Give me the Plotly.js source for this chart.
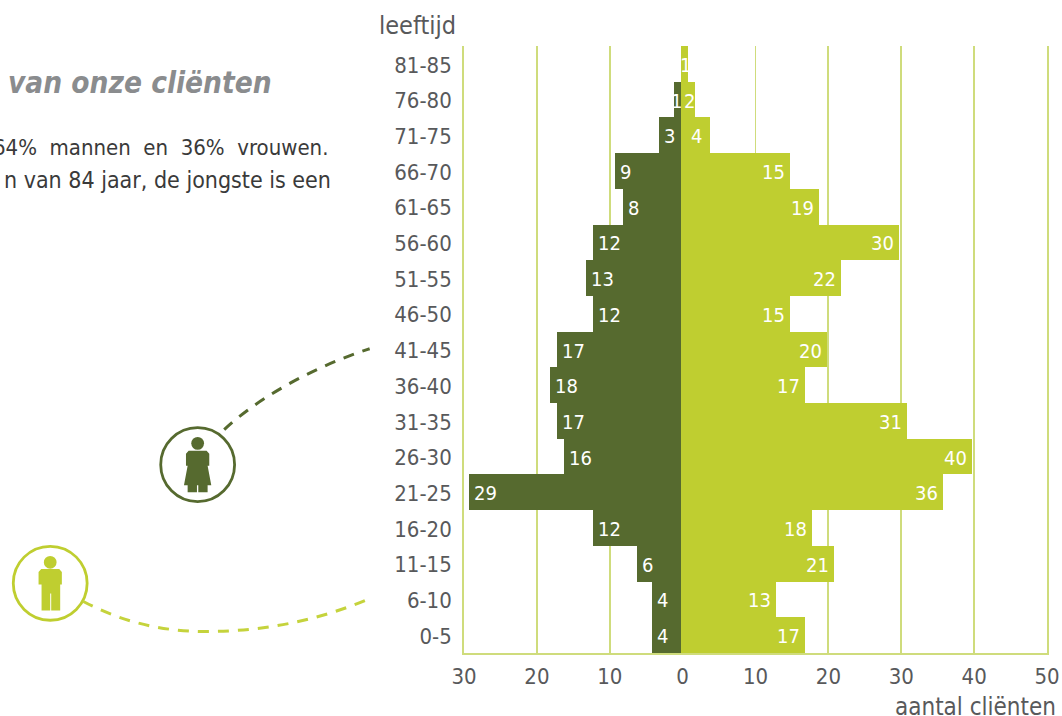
<!DOCTYPE html>
<html><head><meta charset="utf-8">
<script src="https://cdn.plot.ly/plotly-3.0.1.min.js"></script>
<style>html,body{margin:0;padding:0;background:#fff;overflow:hidden}</style>
</head><body><div id="chart" style="width:1062px;height:716px"></div>
<script>
const ageGroups=["0-5","6-10","11-15","16-20","21-25","26-30","31-35","36-40","41-45","46-50","51-55","56-60","61-65","66-70","71-75","76-80","81-85"];
const women=[4,4,6,12,29,16,17,18,17,12,13,12,8,9,3,1,0];
const men=[17,13,21,18,36,40,31,17,20,15,22,30,19,15,4,2,1];
const tickValues=[-30,-20,-10,0,10,20,30,40,50];
const tickLabels=["30","20","10","0","10","20","30","40","50"];
const W=1062,H=716,L=463.5,R=1047.5,T=46,B=653.5,BASE=-0.25;
const FONT='"DejaVu Sans Condensed","DejaVu Sans", sans-serif';
const DARK='#566a2f',LIGHT='#bfce30',GRID='#cfdc7c',TXT='#58595b';
const px=x=>(x-L)/(R-L), py=y=>(B-y)/(B-T);
const P=(x,y)=>px(x).toFixed(5)+','+py(y).toFixed(5);
function pathShape(cmds,opts){
  const d=cmds.map(c=>c[0]+c.slice(1).map(p=>P(p[0],p[1])).join(' ')).join(' ');
  return Object.assign({type:'path',xref:'paper',yref:'paper',path:d},opts);
}
function circle(cx,cy,r,opts){return Object.assign({type:'circle',xref:'paper',yref:'paper',x0:px(cx-r),x1:px(cx+r),y0:py(cy+r),y1:py(cy-r)},opts);}
const z=(ox,oy)=>(x,y)=>[ox+x/3,oy+y/3];
const q=z(0,340);
const solid=c=>({fillcolor:c,line:{color:c,width:0}});
const shapes=[
 circle(196.7,465,37,{line:{color:DARK,width:2.8},fillcolor:'rgba(0,0,0,0)'}),
 circle(49,583.7,37,{line:{color:LIGHT,width:2.8},fillcolor:'rgba(0,0,0,0)'}),
 circle(196.7,443.7,6.4,solid(DARK)),
 circle(49,562.7,6.4,solid(LIGHT)),
 pathShape([['M',q(563,333)],['L',q(617,333)],['L',q(625,342)],['L',q(625,378)],['L',q(620,378)],['L',q(631,437)],['L',q(620,437)],['L',q(620,458)],['L',q(592,458)],['L',q(592,437)],['L',q(588,437)],['L',q(588,458)],['L',q(560,458)],['L',q(560,437)],['L',q(549,437)],['L',q(560,378)],['L',q(555,378)],['L',q(555,342)],['Z']],solid(DARK)),
 pathShape([['M',q(120,688)],['L',q(174,688)],['L',q(182,697)],['L',q(182,735)],['L',q(177,735)],['L',q(177,813)],['L',q(150,813)],['L',q(150,762)],['L',q(147,762)],['L',q(147,813)],['L',q(121,813)],['L',q(121,735)],['L',q(112,735)],['L',q(112,697)],['Z']],solid(LIGHT)),
 pathShape([['M',[223.3,430]],['C',[255,400],[310,368],[369,349]]],{line:{color:DARK,width:3,dash:'11px,9px'},fillcolor:'rgba(0,0,0,0)'}),
 pathShape([['M',[81.7,601.7]],['C',[120,622],[160,632],[205,632]],['C',[265,632],[320,620],[369,599]]],{line:{color:'#c5d33c',width:3,dash:'11px,9px'},fillcolor:'rgba(0,0,0,0)'})
];
const note=(text,x,y,anchor,size,color,extra)=>Object.assign({text:text,xref:'paper',yref:'paper',x:px(x),y:py(y),xanchor:anchor,yanchor:'middle',showarrow:false,font:{family:FONT,size:size,color:color}},extra||{});
const barLabel=(v,cat,sign)=>{
  const center=sign>0?v<=4:v<=2;
  return {text:String(v),xref:'x',yref:'y',x:center?BASE+sign*v/2:BASE+sign*v,y:cat,
    xanchor:center?'center':(sign>0?'right':'left'),xshift:center?sign:(sign>0?-3:3),yshift:-1,yanchor:'middle',showarrow:false,
    font:{family:FONT,size:20,color:'#fff'}};
};
const annotations=[
 note('leeftijd',457,25,'right',25,TXT),
 note('aantal cliënten',1059,707.5,'right',24,TXT),
 note('<b><i>van onze cliënten</i></b>',5,83,'left',29.5,'#8a8c8e'),
 note('64%  mannen  en  36%  vrouwen.',329,148,'right',22,'#3a3a3a'),
 note('n van 84 jaar, de jongste is een',332,180,'right',23,'#3a3a3a')
].concat(men.map((v,i)=>barLabel(v,ageGroups[i],1)),
         women.map((v,i)=>v?barLabel(v,ageGroups[i],-1):null).filter(Boolean));
const barBase={type:'bar',orientation:'h',y:ageGroups,base:BASE,hoverinfo:'skip'};
const data=[
 Object.assign({},barBase,{name:'mannen',x:men,marker:{color:LIGHT,line:{width:0}}}),
 Object.assign({},barBase,{name:'vrouwen',x:women.map(v=>-v),marker:{color:DARK,line:{width:0}}})
];
const layout={width:W,height:H,margin:{l:L,r:W-R,t:T,b:H-B,pad:0},paper_bgcolor:'#fff',plot_bgcolor:'#fff',showlegend:false,barmode:'overlay',bargap:0,
 xaxis:{range:[-30,50],tickmode:'array',tickvals:tickValues,ticktext:tickLabels,showgrid:true,gridcolor:GRID,gridwidth:1.8,zeroline:false,showline:true,linecolor:GRID,linewidth:2,ticks:'',ticklabelstandoff:3,tickfont:{family:FONT,size:22,color:TXT}},
 yaxis:{type:'category',categoryorder:'array',categoryarray:ageGroups,range:[-0.5,16.5],showgrid:false,zeroline:false,showline:true,mirror:true,linecolor:GRID,linewidth:1.8,ticks:'outside',ticklen:6,tickcolor:'rgba(0,0,0,0)',ticklabelshift:1,tickfont:{family:FONT,size:22,color:TXT}},
 shapes:shapes,annotations:annotations};
Plotly.newPlot('chart',data,layout,{displayModeBar:false,staticPlot:true});
</script></body></html>
